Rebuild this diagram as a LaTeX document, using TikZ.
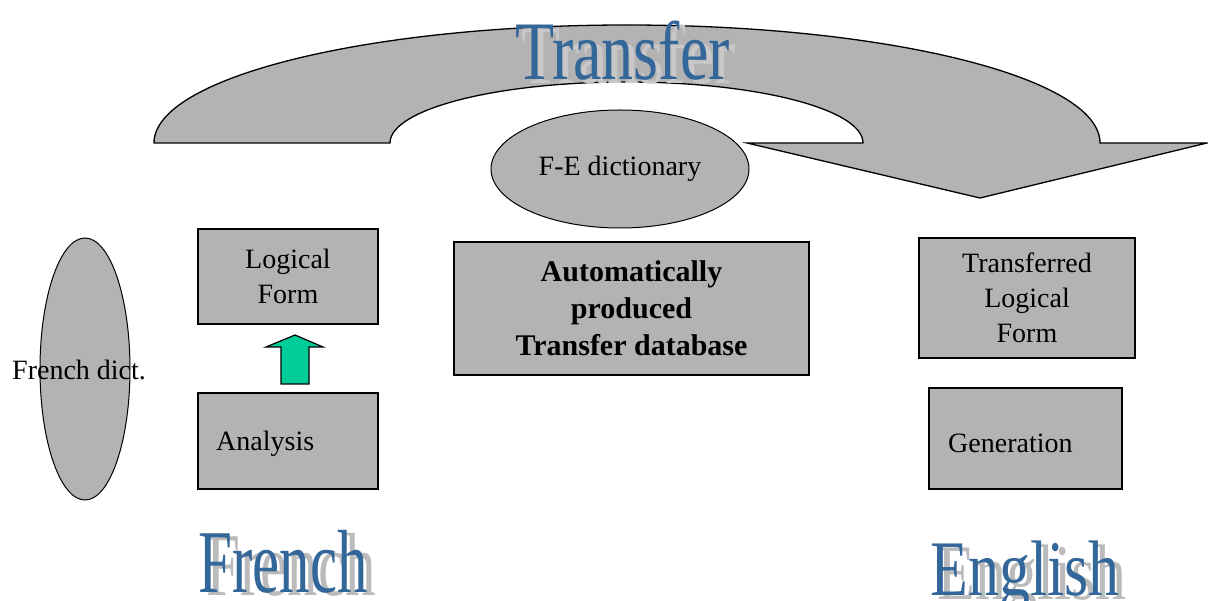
\documentclass[tikz,border=0pt]{standalone}
\usepackage{fontspec}
\setmainfont{Liberation Serif}
\usepackage{graphicx}
\usetikzlibrary{shapes.geometric}
\definecolor{shapegray}{HTML}{B3B3B3}
\definecolor{wordblue}{HTML}{336699}
\definecolor{shadowgray}{HTML}{BBBBBB}
\definecolor{shadowlight}{HTML}{C8C8C8}
\definecolor{arrowgreen}{HTML}{00CC99}
\begin{document}
\begin{tikzpicture}[x=1pt,y=-1pt,
  box/.style={draw=black, line width=1.3pt, fill=shapegray, rectangle, inner sep=0pt,
              align=center, font=\fontsize{28}{35}\selectfont},
  boldbox/.style={box, font=\fontsize{30}{37}\selectfont\bfseries},
  ell/.style={draw=black, line width=1pt, fill=shapegray, ellipse, inner sep=0pt,
              font=\fontsize{28}{34}\selectfont},
  lbl/.style={inner sep=0pt, font=\fontsize{28}{34}\selectfont},
  bigarrow/.style={draw=black, line width=1.3pt, fill=shapegray, line join=miter},
  greenarrow/.style={draw=black, line width=1.2pt, fill=arrowgreen, line join=miter},
  bigword/.style={inner sep=0pt, anchor=base west, text=wordblue},
  bigshadow/.style={inner sep=0pt, anchor=base west, text=shadowgray}
]
\useasboundingbox (0,0) rectangle (1208,601);
\fill[white] (0,0) rectangle (1208,601);

% big curved transfer arrow
\draw[bigarrow] (390,143) -- (154,143)
  arc[start angle=180, end angle=360, x radius=473, y radius=118]
  -- (1207,143) -- (980,198) -- (747,143) -- (863,143)
  arc[start angle=0, end angle=-180, x radius=236.5, y radius=61] -- cycle;

% Transfer title with shadow
\node[bigshadow, text=shadowlight, font=\fontsize{64}{64}\selectfont] (trshadow) at (521,84) {\scalebox{1}[1.3]{Transfer}};
\node[bigword, font=\fontsize{64}{64}\selectfont] (trword) at (515,80) {\scalebox{1}[1.3]{Transfer}};

% F-E dictionary
\node[ell, minimum width=258pt, minimum height=118pt] (fedict) at (620,169) {F-E dictionary};

% French side
\node[ell, minimum width=90pt, minimum height=262pt] (frdict) at (85,369) {};
\node[lbl, anchor=base west] (frdtxt) at (12,380) {French dict.};

\node[box, minimum width=180pt, minimum height=95pt] (lf) at (288,276.5) {Logical\\Form};
\node[box, minimum width=180pt, minimum height=96pt] (an) at (288,441) {};
\node[lbl, anchor=base west] (antxt) at (216,450) {Analysis};

\coordinate (gbot) at (295,384);
\draw[greenarrow] (281,384) -- (281,347) -- (266,347) -- (295,335) -- (323,347) -- (309,347) -- (309,384) -- cycle;

% Transfer database
\node[boldbox, minimum width=355pt, minimum height=133pt] (db) at (631.5,308.5)
  {Automatically\\produced\\Transfer database};

% English side
\node[box, minimum width=216pt, minimum height=120pt] (tlf) at (1027,298) {Transferred\\Logical\\Form};
\node[box, minimum width=193pt, minimum height=101pt] (gen) at (1025.5,438.5) {};
\node[lbl, anchor=base west] (gentxt) at (948,453) {Generation};

% language words
\node[bigshadow, font=\fontsize{61}{61}\selectfont] (frshadow) at (206,595) {\scalebox{1}[1.47]{French}};
\node[bigword, font=\fontsize{61}{61}\selectfont] (frword) at (198,592) {\scalebox{1}[1.47]{French}};
\node[bigshadow, font=\fontsize{62}{62}\selectfont] (enshadow) at (937,599) {\scalebox{1}[1.27]{English}};
\node[bigword, font=\fontsize{62}{62}\selectfont] (enword) at (930,595) {\scalebox{1}[1.27]{English}};
\end{tikzpicture}
\end{document}
